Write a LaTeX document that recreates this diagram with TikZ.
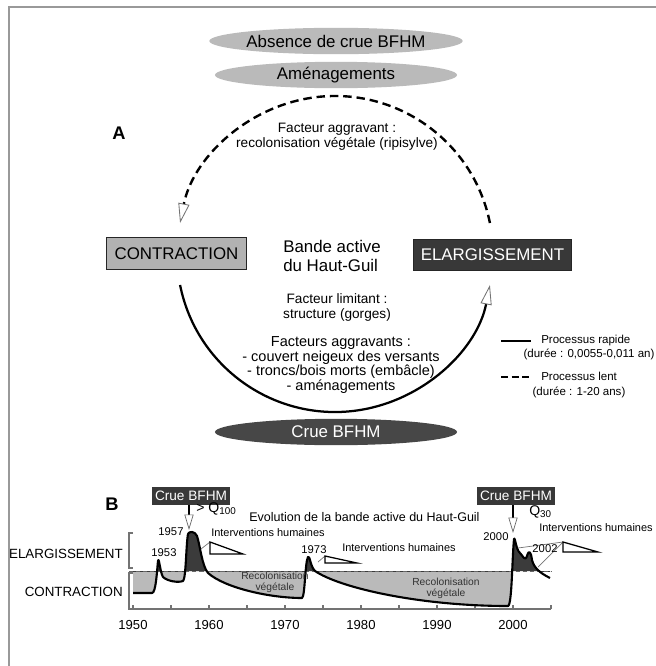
\documentclass[tikz,border=0pt]{standalone}
\usepackage{fontspec}
\setmainfont{Liberation Sans}
\usetikzlibrary{arrows.meta, positioning, calc, shapes.geometric}

% width of the active band through time (pixel grid, y down)
\newcommand{\bandcurve}{(133,-593) -- (152,-593)
  .. controls (156,-593) and (157,-570) .. (158,-561)
  .. controls (159,-556) and (160,-572) .. (163,-577)
  .. controls (167,-581) and (178,-583) .. (183,-581)
  .. controls (186,-579) and (186,-545) .. (188,-534)
  .. controls (189,-531) and (195,-531) .. (197,-536)
  .. controls (200,-545) and (202,-566) .. (208,-573)
  .. controls (225,-588) and (270,-598) .. (302,-598)
  .. controls (305,-597) and (305,-562) .. (308,-557)
  .. controls (310,-555) and (310,-566) .. (315,-571)
  .. controls (340,-588) and (420,-606) .. (508,-606)
  .. controls (512,-605) and (512,-560) .. (514,-539)
  .. controls (515,-536) and (516,-550) .. (520,-553)
  .. controls (523,-556) and (525,-562) .. (527,-556)
  .. controls (529,-549) and (531,-552) .. (532,-560)
  .. controls (534,-568) and (540,-573) .. (550,-578)}

\begin{document}
\begin{tikzpicture}[x=0.025cm, y=0.025cm,
    cloud/.style={ellipse, fill=black!27, minimum width=6.05cm,
      minimum height=0.66cm, inner sep=0pt, font=\fontsize{12}{14}\selectfont},
    crue/.style={cloud, fill=black!72, text=white},
    state/.style={rectangle, draw=black!85, line width=0.8pt,
      minimum height=0.78cm, inner sep=2pt, font=\fontsize{12}{14}\selectfont},
    factor/.style={align=center, inner sep=0pt, font=\fontsize{9.7}{10.7}\selectfont},
    legend/.style={anchor=west, inner sep=0pt, font=\fontsize{8.2}{9}\selectfont},
    panel/.style={inner sep=0pt, font=\fontsize{13}{15}\selectfont\bfseries},
    flood/.style={rectangle, fill=black!78, text=white, minimum width=1.93cm,
      minimum height=0.45cm, inner sep=0pt, font=\fontsize{9.7}{11}\selectfont},
    year/.style={inner sep=0pt, font=\fontsize{8}{9}\selectfont},
    tick/.style={inner sep=0pt, font=\fontsize{9.3}{10}\selectfont},
    human/.style={anchor=west, inner sep=0pt, font=\fontsize{7.8}{9}\selectfont},
    recol/.style={align=center, inner sep=0pt, text=black!80,
      font=\fontsize{7.3}{8}\selectfont},
    fast/.style={line width=1.6pt},
    slow/.style={line width=1.7pt, dash pattern=on 6pt off 3.5pt},
    hollow/.style={-{Triangle[length=14pt, width=8pt, line width=0.6pt,
      fill=white, color=black!55]}},
    shot/.style={line width=0.9pt, -{Triangle[length=11pt, width=6.5pt,
      line width=0.5pt, fill=white, color=black!60]}},
    axis/.style={draw=black!55, line width=0.8pt},
    leader/.style={draw=black!55, line width=0.5pt},
    wedge/.style={draw=black, line width=0.9pt, fill=white}
  ]
  \useasboundingbox (0,0) rectangle (656,-666);
  \draw[black!40, line width=0.8pt] (9,-666) -- (9,-7) -- (656,-7);

  % ---- A: cycle of the active band ----
  \node[cloud] (nocrue) at (336,-41) {Absence de crue BFHM};
  \node[cloud] (amen)   at (336,-75) {Aménagements};
  \node[panel] (pA) at (119,-133) {A};
  \node[factor] (aggr) at (337,-137) {Facteur aggravant :\\recolonisation végétale (ripisylve)};
  \node[state, fill=black!30, minimum width=3.48cm] (contr) at (176.5,-253.5) {CONTRACTION};
  \node[state, fill=black!78, text=white, minimum width=3.93cm] (elarg) at (492.5,-255) {ELARGISSEMENT};
  \node[anchor=west, align=left, inner sep=0pt, font=\fontsize{12}{13}\selectfont]
    (bande) at (283,-256) {Bande active\\du Haut-Guil};
  \node[factor] (limit) at (337,-307) {Facteur limitant :\\structure (gorges)};
  \node[factor, font=\fontsize{10.3}{10.5}\selectfont] (aggrs) at (341,-365)
    {Facteurs aggravants :\\- couvert neigeux des versants\\- troncs/bois morts (embâcle)\\- aménagements};
  \node[crue] (crue) at (336,-432) {Crue BFHM};

  \coordinate (ctr) at (335,-254);
  \draw[slow, hollow] ($(ctr)+(11.3:158)$) arc[start angle=11.3, end angle=168.7, radius=158];
  \draw[fast, hollow] ($(ctr)+(191.3:158)$) arc[start angle=191.3, end angle=348.7, radius=158];

  % legend
  \coordinate (lf1) at (501,-341); \coordinate (lf2) at (531,-341);
  \coordinate (ls1) at (501,-377); \coordinate (ls2) at (531,-377);
  \draw[fast] (lf1) -- (lf2);
  \draw[line width=1.5pt, dash pattern=on 5pt off 2.5pt] (ls1) -- (ls2);
  \node[legend] (rapid) at (541,-341) {Processus rapide};
  \node[legend, anchor=center] (rapidd) at (589,-354) {(durée : 0,0055-0,011 an)};
  \node[legend] (lent) at (541,-376) {Processus lent};
  \node[legend, anchor=center] (lentd) at (579,-392) {(durée : 1-20 ans)};

  % ---- B: evolution since 1950 ----
  \node[panel] (pB) at (112,-504) {B};
  \node[flood] (f57) at (191,-496) {Crue BFHM};
  \node[flood] (f00) at (516,-496) {Crue BFHM};
  \coordinate (a57) at (189,-530);
  \coordinate (a00) at (513,-533);
  \draw[shot] (f57.south -| a57) -- (a57);
  \draw[shot] (f00.south -| a00) -- (a00);
  \node[anchor=west, inner sep=0pt, font=\fontsize{10}{11}\selectfont] (q100) at (196,-509) {> Q\textsubscript{100}};
  \node[anchor=west, inner sep=0pt, font=\fontsize{10}{11}\selectfont] (q30) at (529,-512) {Q\textsubscript{30}};
  \node[anchor=west, inner sep=0pt, font=\fontsize{8.9}{10}\selectfont] (evol) at (249,-517)
    {Evolution de la bande active du Haut-Guil};

  \begin{scope}
    \clip (129,-571) rectangle (513,-612);
    \fill[black!27] \bandcurve -- (550,-571) -- (133,-571) -- cycle;
  \end{scope}
  \begin{scope}
    \clip (129,-571) rectangle (556,-525);
    \fill[black!77] \bandcurve -- (550,-571) -- (133,-571) -- cycle;
  \end{scope}

  \draw[axis] (133,-533) -- (129,-533) -- (129,-568) -- (133,-568);
  \draw[axis] (133,-573) -- (129,-573) -- (129,-609) -- (551,-609);
  \foreach \yr in {1950,1955,...,2005}
    \draw[axis] ({133+7.6*(\yr-1950)},-609) -- ++(0,4);
  \foreach \yr in {1950,1960,...,2000}
    \node[tick] (yr\yr) at ({133+7.6*(\yr-1950)},-625) {\yr};
  \node[anchor=east, inner sep=0pt, font=\fontsize{9.5}{10}\selectfont] (lelarg) at (123,-554) {ELARGISSEMENT};
  \node[anchor=east, inner sep=0pt, font=\fontsize{9.5}{10}\selectfont] (lcontr) at (123,-592) {CONTRACTION};

  \draw[black!60, line width=0.6pt, dash pattern=on 3pt off 2pt] (129,-571) -- (551,-571);
  \draw[line width=1.5pt, line join=round] \bandcurve;

  \node[recol] (r1) at (275,-582) {Recolonisation\\végétale};
  \node[recol] (r2) at (446,-588) {Recolonisation\\végétale};

  % human interventions
  \coordinate (w57) at (210,-542);
  \coordinate (w73) at (325,-556);
  \coordinate (w00) at (563,-542);
  \coordinate (c57) at (201,-549);
  \coordinate (c73) at (318,-562);
  \coordinate (c00a) at (518,-548);
  \coordinate (c00b) at (538,-567);
  \draw[leader] (c57) -- (w57);
  \draw[leader] (c73) -- (w73);
  \draw[leader] (c00a) -- (w00);
  \draw[leader] (c00b) -- (w00);
  \draw[wedge] (w57) -- ++(0,-12) -- ++(33,0) -- cycle;
  \draw[wedge] (w73) -- ++(0,-7) -- ++(32,0) -- cycle;
  \draw[wedge] (w00) -- ++(0,-10) -- ++(35,0) -- cycle;
  \node[human] (h57) at (211,-533) {Interventions humaines};
  \node[human] (h73) at (342,-548) {Interventions humaines};
  \node[human] (h00) at (539,-528) {Interventions humaines};

  \node[year] (y53) at (164,-553) {1953};
  \node[year] (y57) at (171,-532) {1957};
  \node[year] (y73) at (314,-550) {1973};
  \node[year] (y00) at (496,-537) {2000};
  \node[year] (y02) at (545,-549) {2002};
\end{tikzpicture}
\end{document}
